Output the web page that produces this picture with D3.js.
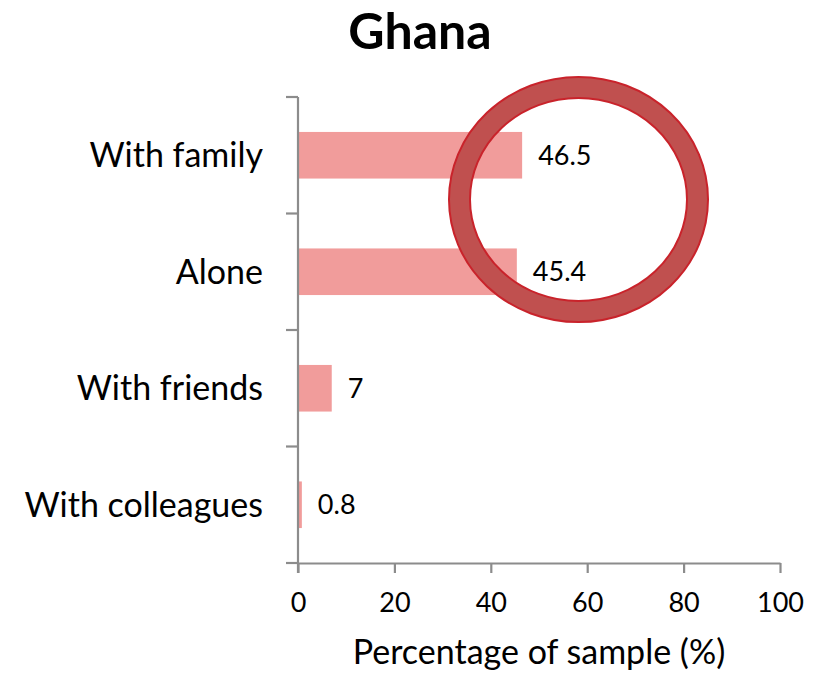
<!DOCTYPE html>
<html>
<head>
<meta charset="utf-8">
<script src="https://cdn.jsdelivr.net/npm/d3@7"></script>
<style>
  html, body { margin: 0; padding: 0; background: #fff; }
  svg { display: block; }
  text { font-family: Lato, "Open Sans", sans-serif; fill: #000; }
</style>
</head>
<body>
<svg id="chart" width="813" height="674"></svg>
<script>
// Who respondents are with — Ghana
const categories = ["With family", "Alone", "With friends", "With colleagues"];
const values = [46.5, 45.4, 7, 0.8];
const xTicks = [0, 20, 40, 60, 80, 100];
const chartTitle = "Ghana";
const xAxisTitle = "Percentage of sample (%)";

const svg = d3.select("#chart");
const plotLeft = 298, plotRight = 780, plotTop = 97, plotBottom = 563;
const axisColor = "#8c8c8c";

const x = d3.scaleLinear().domain([0, 100]).range([plotLeft, plotRight]);
const y = d3.scaleBand().domain(categories).range([plotTop, plotBottom]).paddingInner(0.6).paddingOuter(0.3);

// bars
svg.append("g").selectAll("rect").data(categories).join("rect")
  .attr("x", x(0))
  .attr("y", d => y(d))
  .attr("width", (d, i) => x(values[i]) - x(0))
  .attr("height", y.bandwidth())
  .attr("fill", "#f19c9b");

// value labels
svg.append("g").selectAll("text").data(categories).join("text")
  .attr("x", (d, i) => x(values[i]) + 16)
  .attr("y", d => y(d) + y.bandwidth() / 2)
  .attr("dy", "0.36em")
  .attr("font-size", 27)
  .text((d, i) => values[i]);

// x axis
const xAxis = svg.append("g").attr("transform", `translate(0,${plotBottom})`)
  .call(d3.axisBottom(x).tickValues(xTicks).tickSize(10).tickSizeOuter(0).tickPadding(20));
xAxis.select(".domain").attr("stroke", axisColor).attr("stroke-width", 2.2);
xAxis.selectAll(".tick line").attr("stroke", axisColor).attr("stroke-width", 2.2);
xAxis.selectAll(".tick text").attr("font-size", 27).attr("font-family", "Lato, 'Open Sans', sans-serif").attr("fill", "#000");

// y axis: tick marks at category boundaries
const boundaries = d3.range(categories.length + 1).map(i => plotTop + i * (plotBottom - plotTop) / categories.length);
svg.append("line").attr("x1", plotLeft).attr("x2", plotLeft).attr("y1", plotTop).attr("y2", plotBottom + 10)
  .attr("stroke", axisColor).attr("stroke-width", 2.2);
svg.append("g").selectAll("line").data(boundaries).join("line")
  .attr("x1", plotLeft - 12).attr("x2", plotLeft)
  .attr("y1", d => d).attr("y2", d => d)
  .attr("stroke", axisColor).attr("stroke-width", 2.2);

// category labels
svg.append("g").selectAll("text").data(categories).join("text")
  .attr("x", 263)
  .attr("y", d => y(d) + y.bandwidth() / 2)
  .attr("dy", "0.36em")
  .attr("text-anchor", "end")
  .attr("font-size", 34)
  .text(d => d);

// titles
svg.append("text").attr("x", 420).attr("y", 49).attr("text-anchor", "middle")
  .attr("font-size", 50).attr("font-weight", "bold").text(chartTitle);
svg.append("text").attr("x", 539).attr("y", 664).attr("text-anchor", "middle")
  .attr("font-size", 34).text(xAxisTitle);

// highlight ring around the two leading categories
const cx = 578.5, cy = 199.5, rxO = 129.5, ryO = 122.5, ringW = 21;
const ellipsePath = (rx, ry) =>
  `M${cx - rx},${cy}a${rx},${ry} 0 1,0 ${2 * rx},0a${rx},${ry} 0 1,0 ${-2 * rx},0Z`;
svg.append("path")
  .attr("d", ellipsePath(rxO, ryO) + ellipsePath(rxO - ringW, ryO - ringW))
  .attr("fill-rule", "evenodd")
  .attr("fill", "#c0504f")
  .attr("stroke", "#c9232b")
  .attr("stroke-width", 2);
</script>
</body>
</html>
